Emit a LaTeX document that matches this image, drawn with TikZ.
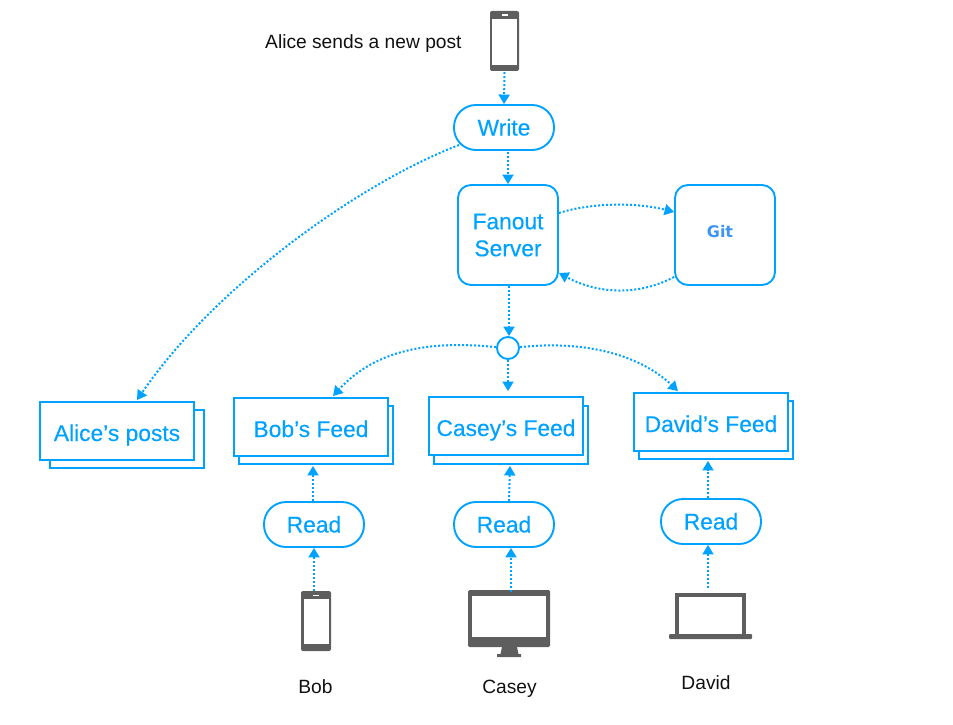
\documentclass[tikz,border=0pt]{standalone}
\usepackage{fontspec}
\setmainfont{Liberation Sans}
\newfontfamily\gitfont{DejaVu Sans}
\newfontfamily\boxfont[RawFeature={embolden=0.35}]{Liberation Sans}
\usetikzlibrary{arrows.meta,calc}
\definecolor{blu}{HTML}{00A2FF}
\definecolor{gitblu}{HTML}{3D94F6}
\definecolor{dev}{HTML}{5E5E5E}
\definecolor{ink}{HTML}{111111}
\tikzset{
  x=1pt,y=-1pt,
  boxtext/.style={text=blu,font=\boxfont\fontsize{22.8}{27}\selectfont,align=center},
  pill/.style={draw=blu,line width=1.9pt,fill=white,rounded corners=22pt,minimum width=100pt,minimum height=45pt,inner sep=0pt,boxtext,text height=16pt,text depth=0pt},
  server/.style={draw=blu,line width=1.9pt,fill=white,rounded corners=13pt,minimum width=100pt,minimum height=100pt,inner sep=0pt,boxtext},
  front/.style={draw=blu,line width=1.9pt,fill=white,minimum width=154pt,minimum height=58pt,inner sep=0pt,boxtext,text height=20pt,text depth=0pt},
  back/.style={draw=blu,line width=1.9pt,fill=white,minimum width=154pt,minimum height=58pt,inner sep=0pt},
  who/.style={text=ink,font=\fontsize{19.2}{23}\selectfont,inner sep=0pt,text height=14pt,text depth=0pt},
  flow/.style={draw=blu,line width=2pt,dash pattern=on 2pt off 2pt,-{Triangle[length=9.5pt,width=11pt]}},
  devbody/.style={fill=dev,inner sep=0pt,rounded corners=2pt},
}
\begin{document}
\begin{tikzpicture}
\useasboundingbox (0,0) rectangle (953,725);
\node[who,anchor=west] (alicelabel) at (265,41.5) {Alice sends a new post};
\node[devbody,minimum width=29pt,minimum height=60pt] (alicephone) at (504.5,41) {};
\fill[white] (492,19) rectangle (517,65);
\fill[white] (501.5,14.5) rectangle (507.5,15.8);
\node[devbody,minimum width=30pt,minimum height=60pt] (bobphone) at (316,621) {};
\fill[white] (303.5,599) rectangle (329,644);
\fill[white] (313,594.5) rectangle (319,595.8);
\node[devbody,minimum width=82pt,minimum height=57pt,rounded corners=1.5pt] (caseymon) at (509,618.5) {};
\fill[white] (472,596) rectangle (546,637);
\fill[dev] (502,647) -- (517,647) -- (518.5,654) -- (521,654) -- (521,657) -- (497,657) -- (497,654) -- (500.5,654) -- cycle;
\node[fill=dev,inner sep=0pt,minimum width=71pt,minimum height=42pt] (davidlap) at (710.5,614) {};
\fill[white] (679,597) rectangle (742,634);
\fill[dev,rounded corners=1pt] (669,634) rectangle (752,639);
\node[pill] (write) at (504,127.5) {Write};
\node[server] (fanout) at (508,235) {Fanout\\Server};
\node[server] (git) at (725,235) {};
\node[text=gitblu,font=\gitfont\bfseries\fontsize{16}{19}\selectfont,inner sep=0pt] (gitlabel) at (720,232) {Git};
\node[circle,draw=blu,line width=1.9pt,fill=white,minimum size=22pt,inner sep=0pt] (hub) at (508,348) {};
\node[back] (aliceback) at (127,439) {};
\node[front] (alice) at (117,431) {Alice’s posts};
\node[back] (bobback) at (316,435) {};
\node[front] (bob) at (311,427) {Bob’s Feed};
\node[back] (caseyback) at (511,435) {};
\node[front] (casey) at (506,426) {Casey’s Feed};
\node[back] (davidback) at (716,430) {};
\node[front] (david) at (711,422) {David’s Feed};
\node[pill] (readb) at (314,524.5) {Read};
\node[pill] (readc) at (504,524.5) {Read};
\node[pill] (readd) at (711,521.5) {Read};
\node[who] (boblabel) at (315.5,686.5) {Bob};
\node[who] (caseylabel) at (509.5,686.5) {Casey};
\node[who] (davidlabel) at (706,682.5) {David};
\draw[flow] ([yshift=-1pt]alicephone.south) -- (write.north);
\draw[flow] ([xshift=4pt,yshift=-1pt]write.south) -- (fanout.north);
\draw[flow] ([xshift=-45pt,yshift=-17.5pt]write.center) .. controls (360,183) and (215,286) .. ([xshift=20pt,yshift=1pt]alice.north);
\draw[flow] ([yshift=22pt]fanout.east) .. controls (590,203) and (635,202) .. ([yshift=23pt]git.west);
\draw[flow] ([yshift=-42pt]git.west) .. controls (640,295) and (600,295) .. ([yshift=-38pt]fanout.east);
\draw[flow] ([xshift=1pt]fanout.south) -- ([xshift=1pt]hub.north);
\draw[flow] (hub.south) -- ([yshift=5pt,xshift=2pt]casey.north);
\draw[flow] (hub.176) .. controls (430,340) and (375,350) .. ([xshift=22pt,yshift=1pt]bob.north);
\draw[flow] (hub.4) .. controls (585,340) and (640,355) .. ([xshift=-33pt,yshift=1pt]david.north);
\draw[flow] ([xshift=-1pt]readb.north) -- ([xshift=-3pt,yshift=-1pt]bobback.south);
\draw[flow] ([xshift=5pt]readc.north) -- ([xshift=-1pt,yshift=-1pt]caseyback.south);
\draw[flow] ([xshift=-3pt]readd.north) -- ([xshift=-8pt,yshift=-1pt]davidback.south);
\draw[flow] ([xshift=-2pt]bobphone.north) -- (readb.south);
\draw[flow] ([xshift=2pt,yshift=-2pt]caseymon.north) -- ([xshift=7pt]readc.south);
\draw[flow] ([xshift=-2.5pt,yshift=5pt]davidlap.north) -- ([xshift=-3pt]readd.south);
\end{tikzpicture}
\end{document}
